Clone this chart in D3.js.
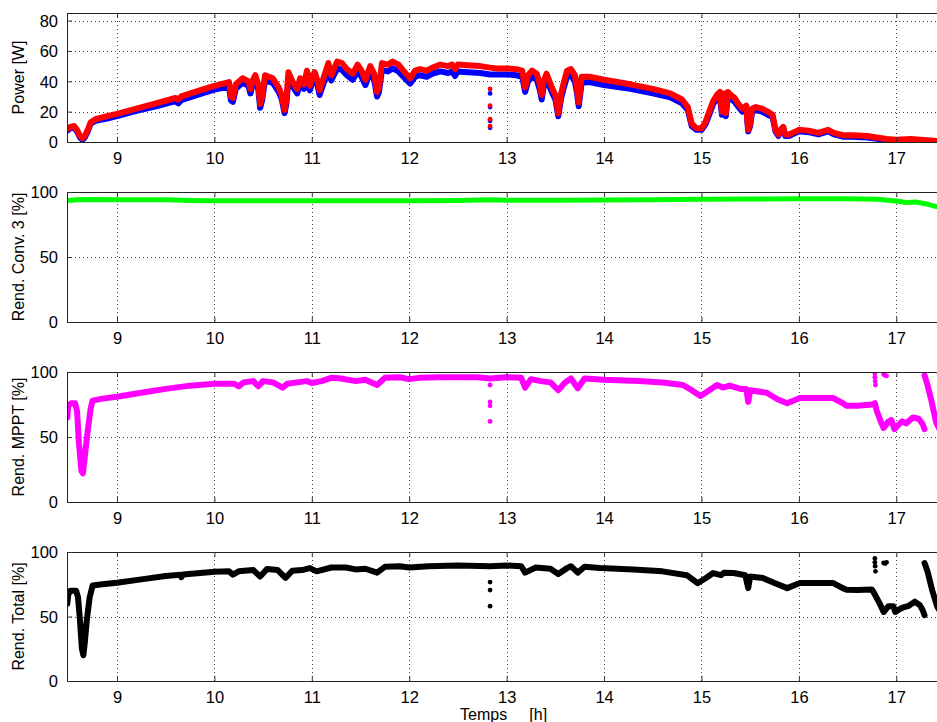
<!DOCTYPE html>
<html><head><meta charset="utf-8">
<script src="https://cdn.jsdelivr.net/npm/d3@7"></script>
<style>
html,body{margin:0;padding:0;background:#fff;overflow:hidden;}
svg{display:block;}
text{font-family:"Liberation Sans",Arial,Helvetica,sans-serif;}
</style></head><body>
<script>
// ---------------- data (time in hours) ----------------
const xTicks = [9,10,11,12,13,14,15,16,17];
const powerTicks = [0,20,40,60,80];
const pctTicks = [0,50,100];
const yLabels = ["Power [W]","Rend. Conv. 3 [%]","Rend. MPPT [%]","Rend. Total [%]"];

// Input power (red) [t, W]
const powerIn = [[8.49,8.5],[8.52,10],[8.56,10.5],[8.59,8],[8.62,4],[8.645,2.5],[8.67,4],[8.70,8],[8.73,13],[8.78,15],[8.9,17],[9.0,18.5],[9.2,22],[9.4,25.5],[9.6,29],[9.63,28],[9.66,30],[9.85,34],[10.0,37],[10.15,39.5],[10.17,30],[10.19,29],[10.22,38],[10.29,42],[10.35,40],[10.37,35],[10.39,40],[10.42,44],[10.45,38],[10.47,25],[10.49,30],[10.52,44],[10.6,42],[10.66,36],[10.69,31],[10.72,21],[10.74,28],[10.76,46],[10.8,40],[10.85,35],[10.88,42],[10.92,38],[10.95,47],[10.98,37],[11.01,44],[11.03,46],[11.06,40],[11.08,34],[11.12,42],[11.17,52],[11.2,44],[11.26,53],[11.31,52],[11.36,48],[11.42,45],[11.47,51],[11.51,47],[11.55,41],[11.6,50],[11.64,45],[11.67,33],[11.69,36],[11.72,52],[11.78,51],[11.83,53],[11.89,51],[11.94,47],[12.01,42],[12.06,47],[12.11,48],[12.18,47],[12.24,49],[12.32,51],[12.4,50],[12.44,51],[12.47,48],[12.5,51],[12.6,50.5],[12.73,50],[12.83,49],[12.9,48.5],[13.0,48.5],[13.1,48],[13.16,47],[13.19,36],[13.22,44],[13.26,47],[13.31,45],[13.34,38],[13.36,31],[13.38,40],[13.41,45],[13.44,40],[13.47,35],[13.5,31],[13.53,19],[13.56,32],[13.59,40],[13.62,47],[13.66,48],[13.7,44],[13.72,36],[13.74,26],[13.77,43],[13.85,43],[14.0,41],[14.27,38],[14.5,35],[14.68,32],[14.8,28],[14.86,23],[14.9,12],[14.95,9],[15.0,9],[15.04,13],[15.08,20],[15.12,27],[15.16,31],[15.19,33],[15.21,20],[15.23,32],[15.25,19],[15.27,33],[15.3,31],[15.34,29],[15.38,25],[15.42,22],[15.46,24],[15.48,8],[15.5,12],[15.52,22],[15.56,23],[15.62,22],[15.68,20],[15.73,18],[15.76,8],[15.79,5],[15.81,8],[15.84,10],[15.86,5],[15.9,5],[15.95,6.5],[16.0,8],[16.1,7.5],[16.2,6],[16.3,8],[16.36,6],[16.45,4.5],[16.55,4.5],[16.7,4],[16.8,3],[16.9,2],[17.0,1.5],[17.15,2],[17.25,1.5],[17.35,1],[17.45,0.5]];
const powerInDots = [[12.83,35],[12.83,24],[12.83,15],[12.83,10.5]];

// Output power (blue) [t, W]
const powerOut = [[8.49,7.5],[8.52,9],[8.56,9.5],[8.59,7],[8.62,3],[8.645,1.5],[8.67,3],[8.70,7],[8.73,12],[8.78,14],[8.9,15.5],[9.0,17],[9.2,20.5],[9.4,23.5],[9.6,27],[9.63,25.5],[9.66,27.5],[9.85,31.5],[10.0,34.5],[10.15,36.5],[10.17,27.5],[10.19,26.5],[10.22,35],[10.29,39],[10.35,37],[10.37,32],[10.39,37],[10.42,40.5],[10.45,35],[10.47,22.5],[10.49,27.5],[10.52,40.5],[10.6,39],[10.66,33],[10.69,28.5],[10.72,19],[10.74,25.5],[10.76,42.5],[10.8,37],[10.85,32],[10.88,38.5],[10.92,35],[10.95,43],[10.98,34],[11.01,40.5],[11.03,42],[11.06,37],[11.08,31],[11.12,38.5],[11.17,47.5],[11.2,40.5],[11.26,48.5],[11.31,47.5],[11.36,44],[11.42,41],[11.47,46.5],[11.51,43],[11.55,37.5],[11.6,46],[11.64,41],[11.67,30],[11.69,33],[11.72,47.5],[11.78,46.5],[11.83,48.5],[11.89,46.5],[11.94,43],[12.01,38.5],[12.06,43],[12.11,44],[12.18,43],[12.24,45],[12.32,46.5],[12.4,45.5],[12.44,46.5],[12.47,43.5],[12.5,46.5],[12.6,46],[12.73,45.5],[12.83,44.5],[12.9,44.5],[13.0,44.5],[13.1,44],[13.16,43],[13.19,33],[13.22,40],[13.26,43],[13.31,41],[13.34,34.5],[13.36,28],[13.38,36.5],[13.41,41],[13.44,36.5],[13.47,32],[13.5,28],[13.53,17],[13.56,29],[13.59,36.5],[13.62,43],[13.66,44],[13.7,40],[13.72,33],[13.74,23.5],[13.77,39],[13.85,39.5],[14.0,37.5],[14.27,35],[14.5,32],[14.68,29.5],[14.8,25.5],[14.86,21],[14.9,10.5],[14.95,8],[15.0,8],[15.04,11.5],[15.08,18],[15.12,25],[15.16,28.5],[15.19,30],[15.21,18],[15.23,29],[15.25,17],[15.27,30],[15.3,28.5],[15.34,26.5],[15.38,23],[15.42,20],[15.46,22],[15.48,7],[15.5,10.5],[15.52,20],[15.56,21],[15.62,20],[15.68,18],[15.73,16.5],[15.76,7],[15.79,4],[15.81,7],[15.84,9],[15.86,4],[15.9,4],[15.95,5.5],[16.0,7],[16.1,6.5],[16.2,5],[16.3,7],[16.36,5],[16.45,3.5],[16.55,3.5],[16.7,3],[16.8,2.2],[16.9,1.2],[17.0,0.8],[17.15,1.2],[17.25,0.8],[17.35,0.3],[17.45,0]];
const powerOutDots = [[12.83,32],[12.83,23],[12.83,14],[12.83,9.4]];

// Converter 3 efficiency (green) [t, %]
const effConv = [[8.49,93.5],[8.6,94],[8.75,94.3],[9.0,94],[9.5,94],[9.75,93.5],[10,93.3],[10.5,93.3],[11,93.2],[11.5,93.3],[12,93.3],[12.5,93.5],[12.83,94],[13,93.6],[13.5,93.6],[14,93.8],[14.5,94],[15,94.5],[15.5,94.6],[16,94.8],[16.5,94.8],[16.8,94.5],[17.0,93],[17.1,92],[17.2,92.3],[17.3,91],[17.4,89],[17.45,88.5]];

// MPPT efficiency (magenta) [t, %]
const effMppt = [[8.49,65],[8.5,74],[8.53,76],[8.57,76],[8.59,70],[8.61,45],[8.635,24],[8.65,22],[8.67,35],[8.70,55],[8.73,72],[8.75,78],[8.85,79.5],[9.0,81],[9.25,84],[9.5,87],[9.75,89.5],[10.0,91],[10.2,91],[10.25,89],[10.3,92],[10.4,93],[10.45,89],[10.5,93],[10.6,92],[10.7,88],[10.75,91],[10.85,92],[10.95,93],[11.0,91.5],[11.1,93],[11.2,95.5],[11.3,95],[11.45,93],[11.55,94],[11.67,90],[11.75,95.5],[11.9,96],[12.0,94.5],[12.1,95.5],[12.3,96],[12.5,96],[12.7,96],[12.83,95],[13.0,96],[13.15,95.5],[13.19,88],[13.25,94.5],[13.35,93],[13.45,92],[13.53,86],[13.6,92],[13.66,95],[13.73,87.5],[13.8,95],[14.0,94],[14.36,93],[14.6,92],[14.81,90],[14.9,86],[14.99,81.5],[15.08,86],[15.16,90],[15.22,88],[15.29,89.5],[15.4,87],[15.46,87],[15.48,77],[15.5,86],[15.67,84],[15.78,79],[15.88,76],[16.01,80],[16.2,80],[16.35,80],[16.45,76],[16.49,74],[16.6,74],[16.75,75],[16.78,76],[16.8,70],[16.84,62],[16.87,57],[16.92,62],[16.95,63],[16.98,56],[17.03,60],[17.06,62],[17.1,60.5],[17.17,65],[17.23,64],[17.27,60],[17.29,56]];
const effMpptTail = [[17.29,97.5],[17.32,90],[17.36,78],[17.41,61],[17.45,55]];
const effMpptDots = [[16.78,99],[16.78,96],[16.783,93],[16.786,90],[16.87,98],[16.885,97.5],[16.9,97],[12.83,90],[12.83,77],[12.83,74],[12.83,62]];

// Total efficiency (black) [t, %]
const effTotal = [[8.49,60],[8.5,67],[8.52,70],[8.58,70],[8.6,65],[8.62,47],[8.64,25],[8.655,20],[8.67,30],[8.69,47],[8.72,65],[8.75,74],[8.85,75],[9.0,76.2],[9.25,78.8],[9.5,81.4],[9.65,82.3],[9.66,80.5],[9.68,82.5],[10.0,84.7],[10.15,85],[10.19,82.5],[10.25,85],[10.4,86],[10.47,81],[10.54,86.8],[10.65,86],[10.73,80],[10.8,85.5],[10.9,86],[10.98,87.5],[11.05,85],[11.2,88],[11.35,88],[11.45,86.5],[11.55,87],[11.67,84],[11.75,88.5],[11.9,89],[12.0,88],[12.2,89],[12.5,89.5],[12.83,89],[13.0,89.5],[13.15,89],[13.19,84],[13.3,88],[13.45,87],[13.53,83],[13.62,87.5],[13.66,89],[13.73,84],[13.8,88.5],[13.96,87.6],[14.3,86.5],[14.6,85],[14.85,82],[14.96,75.8],[15.05,80],[15.12,83.7],[15.2,82],[15.23,84],[15.33,83.7],[15.45,82],[15.48,72],[15.5,81],[15.63,79.8],[15.75,76],[15.88,72],[16.01,76],[16.2,76],[16.35,76],[16.45,72],[16.49,70.8],[16.6,70.5],[16.75,71],[16.78,67],[16.83,60],[16.87,53.5],[16.92,58],[16.97,58],[16.99,53.5],[17.04,56],[17.07,57],[17.12,58],[17.19,61.5],[17.24,59],[17.27,55],[17.29,51]];
const effTotalTail = [[17.29,91.5],[17.32,85],[17.37,70],[17.42,57.7],[17.45,54]];
const effTotalDots = [[16.78,95],[16.78,92],[16.783,89],[16.786,85],[16.87,91.5],[16.885,91],[16.9,92],[12.83,76.7],[12.83,70.5],[12.83,58]];

// ---------------- drawing ----------------
const W = 937, H = 722;
const svg = d3.select("body").append("svg").attr("width", W).attr("height", H);

const x = d3.scaleLinear().domain([8.487, 17.5]).range([67, 945]);

const panels = [
  {top:13, bottom:142, max:85, ticks:powerTicks, label:yLabels[0],
   series:[{d:powerOut,c:"#0000ff"},{d:powerIn,c:"#ff0000"}],
   dots:[{d:powerOutDots,c:"#0000ff"},{d:powerInDots,c:"#ff0000"}]},
  {top:192, bottom:322, max:100, ticks:pctTicks, label:yLabels[1],
   series:[{d:effConv,c:"#00ff00",w:5}], dots:[]},
  {top:372, bottom:502, max:100, ticks:pctTicks, label:yLabels[2],
   series:[{d:effMppt,c:"#ff00ff"},{d:effMpptTail,c:"#ff00ff"}],
   dots:[{d:effMpptDots,c:"#ff00ff"}]},
  {top:552, bottom:681, max:100, ticks:pctTicks, label:yLabels[3],
   series:[{d:effTotal,c:"#000000"},{d:effTotalTail,c:"#000000"}],
   dots:[{d:effTotalDots,c:"#000000"}]}
];

panels.forEach((p, i) => {
  const y = d3.scaleLinear().domain([0, p.max]).range([p.bottom, p.top]);
  const g = svg.append("g");
  const clipId = "clip" + i;
  svg.append("clipPath").attr("id", clipId).append("rect")
    .attr("x", 67).attr("y", p.top).attr("width", 945 - 67).attr("height", p.bottom - p.top);

  // grid
  const grid = g.append("g").attr("stroke", "#444").attr("stroke-width", 1)
    .attr("stroke-dasharray", "1,3").attr("shape-rendering", "crispEdges");
  xTicks.forEach(t => grid.append("line")
    .attr("x1", Math.round(x(t)) + 0.5).attr("x2", Math.round(x(t)) + 0.5)
    .attr("y1", p.top).attr("y2", p.bottom));
  p.ticks.forEach(v => { if (v > 0 && v < p.max) grid.append("line")
    .attr("x1", 67).attr("x2", 945)
    .attr("y1", Math.round(y(v)) + 0.5).attr("y2", Math.round(y(v)) + 0.5); });

  // data
  const dg = g.append("g").attr("clip-path", `url(#${clipId})`);
  const line = d3.line().x(d => x(d[0])).y(d => y(d[1]));
  p.series.forEach(s => dg.append("path").datum(s.d).attr("d", line)
    .attr("fill", "none").attr("stroke", s.c).attr("stroke-width", s.w || 6)
    .attr("stroke-linejoin", "round").attr("stroke-linecap", "round"));
  p.dots.forEach(s => dg.selectAll(null).data(s.d).enter().append("circle")
    .attr("cx", d => x(d[0])).attr("cy", d => y(d[1])).attr("r", 2.4).attr("fill", s.c));

  // axes (box, inward ticks)
  const bottomAxis = d3.axisBottom(x).tickValues(xTicks).tickSize(-5).tickPadding(10).tickFormat(d3.format("d"));
  const topAxis = d3.axisTop(x).tickValues(xTicks).tickSize(-5).tickFormat("");
  const leftAxis = d3.axisLeft(y).tickValues(p.ticks).tickSize(-5).tickPadding(9).tickFormat(d3.format("d"));
  const ab = g.append("g").attr("transform", `translate(0,${p.bottom})`).call(bottomAxis);
  const at = g.append("g").attr("transform", `translate(0,${p.top})`).call(topAxis);
  const al = g.append("g").attr("transform", `translate(67,0)`).call(leftAxis);
  [ab, at, al].forEach(a => {
    a.select(".domain").attr("stroke", "#222").attr("stroke-width", 1);
    a.selectAll(".tick line").attr("stroke", "#333");
    a.selectAll("text").attr("fill", "#000").style("font-size", "16.5px")
      .style("font-family", '"Liberation Sans",Arial,sans-serif');
  });
  al.selectAll(".tick text").attr("dy", "0.36em");

  // y label
  svg.append("text")
    .attr("transform", `translate(24,${(p.top + p.bottom) / 2}) rotate(-90)`)
    .attr("text-anchor", "middle").style("font-size", "16px").text(p.label);
});

svg.append("text").attr("x", 460).attr("y", 720)
  .style("font-size", "16px").style("white-space", "pre").text("Temps     [h]");
</script>
</body></html>
